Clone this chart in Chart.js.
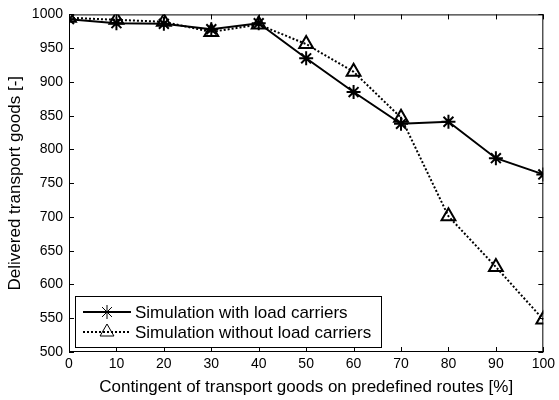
<!DOCTYPE html>
<html>
<head>
<meta charset="utf-8">
<script src="https://cdn.jsdelivr.net/npm/chart.js@4.4.0/dist/chart.umd.min.js"></script>
<style>
  body { margin: 0; background: #fff; }
  #wrap { width: 559px; height: 400px; }
</style>
</head>
<body>
<div id="wrap"><canvas id="myChart" width="559" height="400"></canvas></div>
<script>
var contingent = [0, 10, 20, 30, 40, 50, 60, 70, 80, 90, 100];
var withCarriers = [993, 987, 986, 978, 987, 935, 885, 838, 841, 787, 763];
var withoutCarriers = [995, 992, 989, 974, 985, 956, 915, 847, 701, 626, 548];
var seriesNames = ['Simulation with load carriers', 'Simulation without load carriers'];
var fontFam = '"Liberation Sans", Arial, sans-serif';

function toPoints(vals) {
    var pts = [];
    for (var i = 0; i < contingent.length; i++) {
        pts.push({x: contingent[i], y: vals[i]});
    }
    return pts;
}

// box round the plot + inward ticks on all four sides, like matlab
var frame = {
    id: 'frame',
    afterDraw: function (chart) {
        var ctx = chart.ctx, a = chart.chartArea;
        var xs = chart.scales.x, ys = chart.scales.y;
        ctx.save();
        ctx.strokeStyle = '#000';
        ctx.lineWidth = 1;
        ctx.strokeRect(a.left + 0.5, a.top + 0.5, a.right - a.left - 1, a.bottom - a.top - 1);
        ctx.beginPath();
        xs.ticks.forEach(function (t) {
            var px = Math.round(xs.getPixelForValue(t.value)) + 0.5;
            ctx.moveTo(px, a.bottom); ctx.lineTo(px, a.bottom - 5);
            ctx.moveTo(px, a.top); ctx.lineTo(px, a.top + 5);
        });
        ys.ticks.forEach(function (t) {
            var py = Math.round(ys.getPixelForValue(t.value)) + 0.5;
            ctx.moveTo(a.left, py); ctx.lineTo(a.left + 5, py);
            ctx.moveTo(a.right, py); ctx.lineTo(a.right - 5, py);
        });
        ctx.stroke();

        // legend box in the lower left corner
        var lx = 75, ly = 296, lw = 306, lh = 51;
        ctx.fillStyle = '#fff';
        ctx.fillRect(lx, ly, lw, lh);
        ctx.strokeRect(lx + 0.5, ly + 0.5, lw, lh);
        ctx.font = '17px ' + fontFam;
        ctx.textBaseline = 'middle';
        chart.data.datasets.forEach(function (ds, i) {
            var y = ly + 16 + i * 20;
            ctx.save();
            ctx.lineWidth = ds.borderWidth;
            ctx.setLineDash(ds.borderDash || []);
            ctx.beginPath();
            ctx.moveTo(lx + 8, y); ctx.lineTo(lx + 56, y);
            ctx.stroke();
            ctx.restore();
            ctx.fillStyle = 'rgba(0,0,0,0)';
            Chart.helpers.drawPoint(ctx, {
                pointStyle: ds.pointStyle, radius: ds.pointRadius, rotation: 0,
                borderWidth: ds.pointBorderWidth
            }, lx + 32, y);
            ctx.fillStyle = '#000';
            ctx.fillText(ds.label, lx + 60, y + 1);
        });
        ctx.restore();
    }
};

var ctx = document.getElementById('myChart').getContext('2d');
var myChart = new Chart(ctx, {
    type: 'line',
    data: {
        datasets: [{
            label: seriesNames[0],
            data: toPoints(withCarriers),
            borderColor: '#000',
            borderWidth: 2,
            pointStyle: 'star',
            pointRadius: 7,
            pointBorderWidth: 2,
            pointBorderColor: '#000',
            pointBackgroundColor: 'transparent'
        }, {
            label: seriesNames[1],
            data: toPoints(withoutCarriers),
            borderColor: '#000',
            borderWidth: 2,
            borderDash: [2, 2],
            pointStyle: 'triangle',
            pointRadius: 8,
            pointBorderWidth: 2,
            pointBorderColor: '#000',
            pointBackgroundColor: 'transparent'
        }]
    },
    options: {
        responsive: false,
        animation: false,
        layout: { padding: { top: 13, right: 11, left: 0, bottom: 0 } },
        plugins: { legend: { display: false }, tooltip: { enabled: false } },
        scales: {
            x: {
                type: 'linear', min: 0, max: 100,
                grid: { display: false, drawTicks: false },
                border: { display: false },
                ticks: { stepSize: 10, padding: 4, color: '#000',
                    font: { family: fontFam, size: 14 } },
                title: { display: true, text: 'Contingent of transport goods on predefined routes [%]',
                    color: '#000', padding: { top: 0, bottom: 2 },
                    font: { family: fontFam, size: 17 } },
                afterFit: function (s) { s.height = 48; }
            },
            y: {
                min: 500, max: 1000,
                grid: { display: false, drawTicks: false },
                border: { display: false },
                ticks: { stepSize: 50, padding: 6, color: '#000',
                    font: { family: fontFam, size: 14 },
                    callback: function (v) { return String(v); } },
                title: { display: true, text: 'Delivered transport goods [-]',
                    color: '#000', padding: { top: 5, bottom: 0 },
                    font: { family: fontFam, size: 17 } },
                afterFit: function (s) { s.width = 69; }
            }
        }
    },
    plugins: [frame]
});
</script>
</body>
</html>
